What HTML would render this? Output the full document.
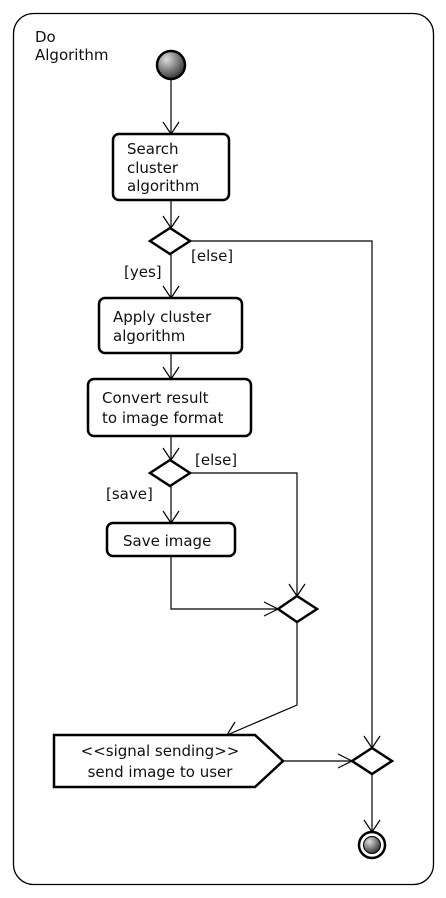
<!DOCTYPE html>
<html><head><meta charset="utf-8"><style>
html,body{margin:0;padding:0;background:#fff;width:446px;height:898px;overflow:hidden}
text{font-family:"DejaVu Sans","Liberation Sans",sans-serif;font-size:15px;fill:#111}
</style></head><body>
<svg width="446" height="898" viewBox="0 0 446 898" xmlns="http://www.w3.org/2000/svg">
<defs>
<radialGradient id="g" cx="0.35" cy="0.3" r="0.8">
<stop offset="0" stop-color="#ddd"/><stop offset="1" stop-color="#222"/>
</radialGradient>
</defs>
<rect x="13.5" y="13.5" width="420" height="871" rx="20" fill="#fff" stroke="#000" stroke-width="1.3"/>
<text x="35" y="42">Do</text>
<text x="35" y="60">Algorithm</text>
<circle cx="171" cy="65" r="14" fill="url(#g)" stroke="#000" stroke-width="2.5"/>
<g fill="none" stroke="#000" stroke-width="1.2">
<path d="M171 79V134"/><path d="M163 122L171 134L179 122"/>
<path d="M171 200V228"/><path d="M163 216L171 228L179 216"/>
<path d="M190 241H372V748"/><path d="M364 736L372 748L380 736"/>
<path d="M171 254V298"/><path d="M163 286L171 298L179 286"/>
<path d="M171 353V379"/><path d="M163 367L171 379L179 367"/>
<path d="M171 436V460"/><path d="M163 448L171 460L179 448"/>
<path d="M190 473H297V596"/><path d="M289 584L297 596L305 584"/>
<path d="M171 486V523"/><path d="M163 511L171 523L179 511"/>
<path d="M171 556V609H278"/><path d="M264 602L278 609L264 616"/>
<path d="M297 623V705L227 735"/><path d="M235 722L227 735L241 736"/>
<path d="M283 761H352"/><path d="M338 754L352 761L338 768"/>
<path d="M372 774V832"/><path d="M364 820L372 832L380 820"/>
</g>
<g fill="#fff" stroke="#000" stroke-width="2.5">
<rect x="113" y="134" width="116" height="66" rx="6"/>
<rect x="99" y="298" width="143" height="55" rx="6"/>
<rect x="88" y="379" width="163" height="57" rx="6"/>
<rect x="107" y="523" width="128" height="33" rx="6"/>
<path d="M150 241L170 228L190 241L170 254Z"/>
<path d="M150 473L170 460L190 473L170 486Z"/>
<path d="M278 609L297 596L317 609L297 622Z"/>
<path d="M352 761L372 748L392 761L372 774Z"/>
<path d="M54 735H255L283 761L255 787H54Z"/>
</g>
<circle cx="372" cy="845" r="13" fill="#fff" stroke="#000" stroke-width="2.5"/>
<circle cx="372" cy="845" r="8.5" fill="url(#g)" stroke="#000" stroke-width="1"/>
<text x="127" y="154">Search</text>
<text x="127" y="173">cluster</text>
<text x="127" y="191">algorithm</text>
<text x="191" y="261">[else]</text>
<text x="124" y="277">[yes]</text>
<text x="113" y="322">Apply cluster</text>
<text x="113" y="341">algorithm</text>
<text x="102" y="403">Convert result</text>
<text x="102" y="423">to image format</text>
<text x="195" y="465">[else]</text>
<text x="106" y="499">[save]</text>
<text x="123" y="546">Save image</text>
<text x="160" y="756" text-anchor="middle">&lt;&lt;signal sending&gt;&gt;</text>
<text x="160" y="777" text-anchor="middle">send image to user</text>
</svg>
</body></html>
